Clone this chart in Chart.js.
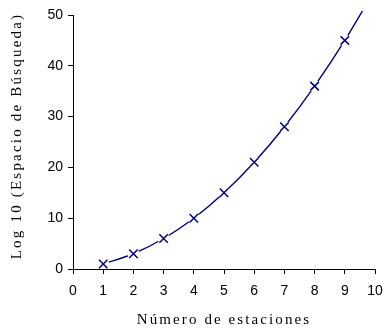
<!DOCTYPE html>
<html>
<head>
<meta charset="utf-8">
<script src="https://cdn.jsdelivr.net/npm/chart.js@4/dist/chart.umd.min.js"></script>
<style>
html,body{margin:0;padding:0;background:#fff;}
#wrap{width:384px;height:331px;position:relative;}
</style>
</head>
<body>
<div id="wrap"><canvas id="c" width="384" height="331"></canvas></div>
<script>
const estaciones = [1, 2, 3, 4, 5, 6, 7, 8, 9, 10];
const espacio = [1, 3, 6, 10, 15, 21, 28, 36, 45, 55];
const xTitle = 'Número de estaciones';
const yTitle = 'Log 10 (Espacio de Búsqueda)';

const pts = estaciones.map((x, i) => ({x: x, y: espacio[i]}));
const NAVY = '#000080';
const titleSpacing = {x: '2.1px', y: '2.2px'};
const titleShift = {x: [0, 0], y: [0, -6]};

const spacingPlugin = {
  id: 'titleSpacing',
  beforeDraw(chart) {
    for (const [id, s] of Object.entries(chart.scales)) {
      if (!s._lsPatched) {
        const orig = s.drawTitle.bind(s);
        s.drawTitle = function () {
          const ctx = this.ctx;
          ctx.save();
          ctx.letterSpacing = titleSpacing[id] || '0px';
          const sh = titleShift[id] || [0, 0];
          ctx.translate(sh[0], sh[1]);
          orig();
          ctx.restore();
        };
        s._lsPatched = true;
      }
    }
  }
};

new Chart(document.getElementById('c'), {
  type: 'line',
  data: {
    datasets: [
      {
        data: pts,
        borderColor: NAVY,
        borderWidth: 1.4,
        pointRadius: 0,
        tension: 0.3,
        fill: false,
        clip: {left: 0, top: 4, right: 0, bottom: 0},
        order: 3
      },
      {
        data: pts,
        showLine: false,
        pointStyle: 'circle',
        pointRadius: 6,
        pointBorderWidth: 0,
        pointBackgroundColor: '#ffffff',
        pointBorderColor: '#ffffff',
        clip: 0,
        order: 2
      },
      {
        data: pts,
        showLine: false,
        pointStyle: 'crossRot',
        pointRadius: 6,
        pointBorderWidth: 1.5,
        pointBorderColor: NAVY,
        pointBackgroundColor: NAVY,
        clip: 0,
        order: 1
      }
    ]
  },
  options: {
    responsive: false,
    animation: false,
    events: [],
    layout: {padding: {top: 15, right: 9, left: 0, bottom: 0}},
    plugins: {legend: {display: false}, tooltip: {enabled: false}},
    scales: {
      x: {
        type: 'linear',
        min: 0, max: 10,
        grid: {display: true, drawOnChartArea: false, drawTicks: true, tickLength: 5, color: '#000', tickColor: '#000'},
        border: {display: true, color: '#000', width: 1},
        ticks: {stepSize: 1, color: '#000', padding: 9, font: {family: 'Liberation Sans, Arial, sans-serif', size: 14}, maxRotation: 0},
        title: {display: true, text: xTitle, color: '#000', font: {family: 'Liberation Serif, Times New Roman, serif', size: 15}, padding: {top: 0, bottom: 2}},
        afterFit(scale) { scale.height = 62; scale.paddingRight = 0; scale.paddingLeft = 0; }
      },
      y: {
        type: 'linear',
        min: 0, max: 50,
        grid: {display: true, drawOnChartArea: false, drawTicks: true, tickLength: 5, color: '#000', tickColor: '#000'},
        border: {display: true, color: '#000', width: 1},
        ticks: {stepSize: 10, color: '#000', padding: 5, font: {family: 'Liberation Sans, Arial, sans-serif', size: 14}},
        title: {display: true, text: yTitle, color: '#000', font: {family: 'Liberation Serif, Times New Roman, serif', size: 15}, padding: {top: 8, bottom: 0}},
        afterFit(scale) { scale.width = 73; scale.paddingTop = 0; scale.paddingBottom = 0; }
      }
    }
  },
  plugins: [spacingPlugin]
});
</script>
</body>
</html>
